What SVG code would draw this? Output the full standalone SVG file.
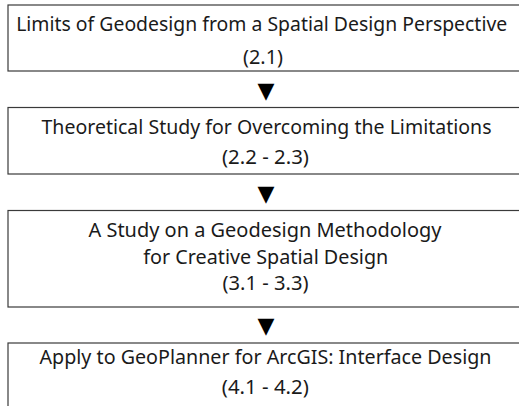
<svg xmlns="http://www.w3.org/2000/svg" width="519" height="406" viewBox="0 0 519 406">
<style>
.box{fill:#ffffff;stroke:#3a3a3a;stroke-width:1.2}
.t{font-family:"Noto Sans","Liberation Sans",sans-serif;font-size:20px;fill:#1a1a1a;text-anchor:middle}
.arr{font-family:"DejaVu Sans","Liberation Sans",sans-serif;font-size:22px;fill:#000;text-anchor:middle}
</style>
<rect x="0" y="0" width="519" height="406" fill="#ffffff"/>
<g id="node1">
<rect class="box" x="8" y="5" width="520" height="66"/>
<text class="t" x="261.7" y="31" textLength="491" lengthAdjust="spacingAndGlyphs">Limits of Geodesign from a Spatial Design Perspective</text>
<text class="t" x="263" y="63.5" textLength="40" lengthAdjust="spacingAndGlyphs">(2.1)</text>
</g>
<g id="node2">
<rect class="box" x="8" y="107.5" width="520" height="66.5"/>
<text class="t" x="266.5" y="134" textLength="450" lengthAdjust="spacingAndGlyphs">Theoretical Study for Overcoming the Limitations</text>
<text class="t" x="265.5" y="164" textLength="87" lengthAdjust="spacingAndGlyphs">(2.2 - 2.3)</text>
</g>
<g id="node3">
<rect class="box" x="8" y="210.5" width="520" height="96.5"/>
<text class="t" x="265" y="237" textLength="353" lengthAdjust="spacingAndGlyphs">A Study on a Geodesign Methodology</text>
<text class="t" x="265.8" y="264" textLength="245" lengthAdjust="spacingAndGlyphs">for Creative Spatial Design</text>
<text class="t" x="265.5" y="290" textLength="86" lengthAdjust="spacingAndGlyphs">(3.1 - 3.3)</text>
</g>
<g id="node4">
<rect class="box" x="8" y="343" width="520" height="80"/>
<text class="t" x="265.5" y="364" textLength="452" lengthAdjust="spacingAndGlyphs">Apply to GeoPlanner for ArcGIS: Interface Design</text>
<text class="t" x="265.3" y="394" textLength="87" lengthAdjust="spacingAndGlyphs">(4.1 - 4.2)</text>
</g>
<g id="connectors">
<text class="arr" x="266" y="98">▼</text>
<text class="arr" x="266" y="201">▼</text>
<text class="arr" x="266" y="333">▼</text>
</g>
</svg>
